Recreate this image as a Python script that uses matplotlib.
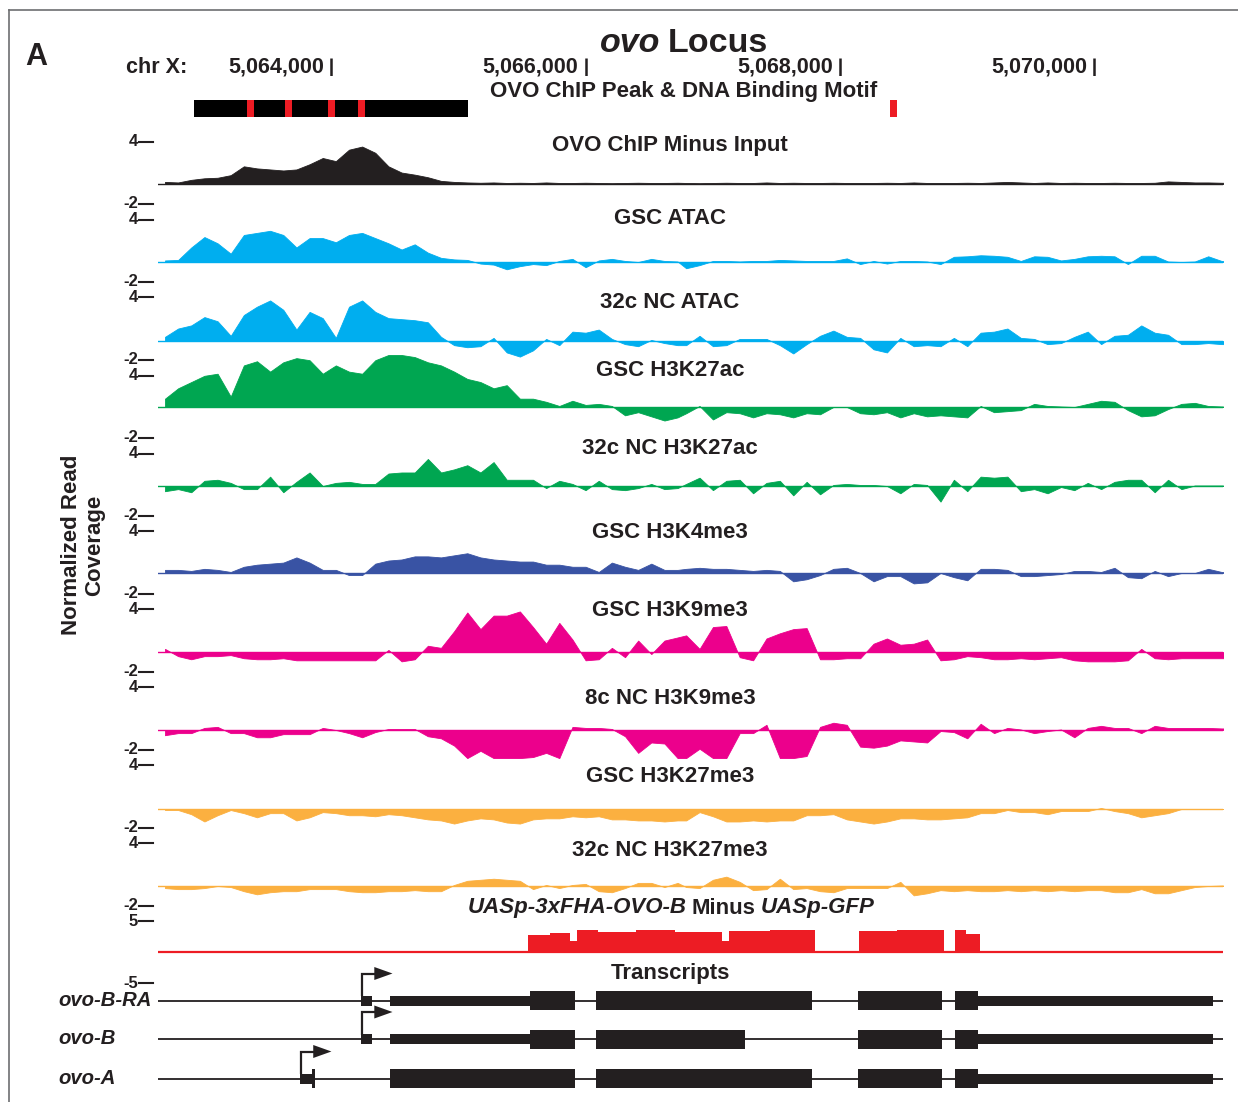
import numpy as np
import matplotlib
matplotlib.use("Agg")
import matplotlib.pyplot as plt
import matplotlib.transforms as mtransforms
from matplotlib.patches import Rectangle, Polygon
from matplotlib.lines import Line2D

plt.rcParams['font.family'] = ['Liberation Sans', 'DejaVu Sans']
TXT = '#231f20'
plt.rcParams['text.color'] = TXT

# ---------------- data ----------------
XMIN, XMAX = 5062640, 5071010            # chrX window shown
GENOME_TICKS = [5064000, 5066000, 5068000, 5070000]
# coverage bin centres (chrX)
BIN_POS = np.r_[5062695 + 103.3 * np.arange(40), 5066791 + 105.2 * np.arange(43)]

OVO_CHIP = [0.2, 0.15, 0.4, 0.55, 0.6, 0.85, 1.7, 1.5, 1.4, 1.3, 1.4, 1.9, 2.5, 2.2, 3.3, 3.6, 3.0, 1.7, 1.1, 0.9,
            0.65, 0.3, 0.2, 0.15, 0.12, 0.15, 0.1, 0.12, 0.1, 0.15, 0.1, 0.1, 0.12, 0.1, 0.08, 0.1, 0.12, 0.1, 0.1, 0.12,
            0.1, 0.08, 0.1, 0.12, 0.1, 0.1, 0.15, 0.1, 0.12, 0.1, 0.1, 0.12, 0.1, 0.1, 0.1, 0.12, 0.1, 0.15, 0.1, 0.1,
            0.1, 0.12, 0.1, 0.15, 0.2, 0.15, 0.1, 0.15, 0.1, 0.12, 0.1, 0.1, 0.12, 0.1, 0.1, 0.12, 0.25, 0.2, 0.15, 0.15,
            0.12, 0.1, 0.1]
GSC_ATAC = [0.15, 0.2, 1.4, 2.4, 1.8, 0.8, 2.6, 2.8, 3.0, 2.6, 1.4, 2.3, 2.3, 1.9, 2.6, 2.8, 2.3, 1.8, 1.2, 1.7,
            0.9, 0.4, 0.25, 0.2, -0.15, -0.25, -0.7, -0.4, -0.2, -0.3, 0.1, 0.3, -0.5, 0.15, 0.3, 0.1, 0.0, 0.3, 0.1, 0.05,
            -0.6, -0.3, 0.1, 0.1, 0.05, 0.1, 0.1, 0.2, 0.15, 0.1, 0.1, 0.1, 0.35, -0.2, 0.1, -0.15, 0.1, 0.1, 0.05, -0.2,
            0.5, 0.55, 0.65, 0.6, 0.5, 0.1, 0.55, 0.5, 0.15, 0.3, 0.55, 0.6, 0.55, -0.2, 0.6, 0.6, 0.05, 0.0, 0.05, 0.55,
            0.1, 0.05, 0.05]
NC32_ATAC = [0.4, 1.2, 1.5, 2.3, 1.9, 0.5, 2.5, 3.3, 3.9, 3.0, 1.1, 2.8, 2.2, 0.3, 3.3, 3.9, 2.8, 2.2, 2.1, 2.0,
             1.8, 0.4, -0.4, -0.6, -0.5, 0.3, -1.1, -1.5, -0.9, 0.2, -0.4, 0.9, 0.8, 1.1, 0.2, -0.3, -0.5, 0.1, -0.2, -0.4,
             -0.4, 0.5, -0.5, -0.4, 0.2, 0.2, 0.2, -0.4, -1.2, -0.3, 0.5, 1.0, 0.4, 0.3, -0.8, -1.1, 0.3, -0.5, -0.4, -0.5,
             0.3, -0.5, 0.8, 0.9, 1.2, 0.3, 0.2, -0.3, -0.2, 0.4, 0.9, -0.3, 0.5, 0.6, 1.5, 0.8, 0.6, -0.3, -0.3, -0.2,
             -0.3, -0.3, -0.4]
GSC_K27AC = [0.8, 1.8, 2.4, 3.0, 3.2, 1.0, 4.0, 4.4, 3.4, 4.3, 4.7, 4.5, 3.2, 4.0, 3.4, 3.2, 4.5, 5.0, 5.0, 4.8,
             4.3, 4.0, 3.4, 2.7, 2.4, 1.8, 2.1, 0.8, 0.8, 0.5, 0.1, 0.6, 0.2, 0.3, 0.1, -0.8, -0.5, -0.9, -1.3, -1.0,
             -0.6, 0.1, -1.2, -0.5, -0.6, -1.0, -0.6, -0.7, -1.0, -0.6, -0.7, 0.0, 0.0, -0.6, -0.7, -0.5, -1.0, -0.6, -0.9, -0.8,
             -0.9, -1.0, 0.1, -0.5, -0.4, -0.3, 0.3, 0.1, 0.05, 0.0, 0.3, 0.6, 0.5, -0.3, -0.9, -0.8, -0.2, 0.3, 0.4, 0.1,
             0.05, 0.05, 0.05]
NC32_K27AC = [-0.5, -0.3, -0.6, 0.5, 0.6, 0.3, -0.3, -0.3, 0.9, -0.6, 0.4, 1.3, 0.0, 0.3, 0.4, 0.2, 0.2, 1.2, 1.3, 1.3,
              2.6, 1.3, 1.6, 2.0, 1.3, 2.3, 0.6, 0.6, 0.6, -0.2, 0.5, 0.2, -0.4, 0.5, -0.3, -0.4, -0.2, 0.2, -0.3, -0.2,
              0.2, 0.8, -0.4, 0.5, 0.6, -0.7, 0.3, 0.5, -0.9, 0.4, -0.8, 0.1, 0.2, 0.1, 0.1, 0.0, -0.7, 0.2, 0.1, -1.5,
              0.6, -0.5, 0.9, 0.8, 0.9, -0.5, -0.3, -0.7, -0.1, -0.4, 0.3, -0.3, 0.4, 0.6, 0.6, -0.6, 0.6, -0.3, 0.05, 0.05,
              0.05, 0.05, -0.1]
GSC_K4ME3 = [0.3, 0.3, 0.2, 0.4, 0.3, 0.1, 0.6, 0.8, 0.9, 1.0, 1.5, 1.0, 0.3, 0.3, -0.2, -0.2, 0.9, 1.2, 1.3, 1.6,
             1.6, 1.5, 1.7, 1.9, 1.5, 1.3, 1.2, 1.1, 1.1, 0.8, 0.8, 0.6, 0.6, 0.1, 1.0, 0.6, 0.3, 0.9, 0.3, 0.3,
             0.4, 0.5, 0.4, 0.4, 0.3, 0.2, 0.3, 0.2, -0.8, -0.6, -0.2, 0.4, 0.5, 0.0, -0.8, -0.3, -0.3, -1.0, -0.9, 0.0,
             -0.4, -0.7, 0.4, 0.4, 0.3, -0.3, -0.3, -0.2, -0.1, 0.2, 0.2, 0.1, 0.5, -0.4, -0.5, 0.2, -0.3, 0.0, 0.0, 0.4,
             0.1, 0.0, -0.1]
GSC_K9ME3 = [0.3, -0.4, -0.7, -0.4, -0.4, -0.3, -0.6, -0.7, -0.7, -0.6, -0.8, -0.8, -0.8, -0.8, -0.8, -0.8, -0.8, 0.2, -0.9, -0.7,
             0.6, 0.4, 2.0, 3.8, 2.2, 3.5, 3.5, 3.9, 2.4, 0.8, 2.8, 1.2, -0.8, -0.7, 0.4, -0.5, 1.1, -0.2, 1.1, 1.4,
             1.6, 0.3, 2.4, 2.5, -0.5, -0.8, 1.3, 1.8, 2.2, 2.3, -0.7, -0.7, -0.6, -0.6, 0.8, 1.3, 0.7, 0.8, 1.2, -0.8,
             -0.7, -0.4, -0.5, -0.7, -0.7, -0.6, -0.7, -0.6, -0.5, -0.8, -0.9, -0.9, -0.9, -0.8, 0.3, -0.6, -0.7, -0.6, -0.6, -0.6,
             -0.6, -0.6, -0.6]
NC8_K9ME3 = [-0.5, -0.3, -0.3, 0.2, 0.3, -0.3, -0.3, -0.7, -0.7, -0.4, -0.4, -0.4, 0.2, 0.0, -0.3, -0.7, -0.2, 0.1, 0.1, 0.1,
             -0.6, -0.8, -1.5, -2.7, -2.0, -2.7, -2.7, -2.7, -2.6, -2.2, -2.7, 0.3, 0.2, 0.2, 0.1, -0.6, -2.2, -1.2, -1.3, -2.7,
             -2.7, -1.8, -2.7, -2.7, -0.3, -0.3, 0.5, -2.7, -2.7, -2.5, 0.3, 0.7, 0.5, -1.6, -1.7, -1.5, -1.0, -1.1, -1.2, -0.1,
             -0.2, -0.8, 0.6, -0.3, 0.2, 0.05, -0.3, -0.1, 0.05, -0.7, 0.2, 0.4, 0.2, 0.2, -0.3, 0.4, 0.2, 0.2, 0.2, 0.2,
             0.15, 0.15, -0.2]
GSC_K27ME3 = [-0.1, -0.1, -0.5, -1.2, -0.6, -0.1, -0.4, -0.8, -0.4, -0.4, -1.1, -0.8, -0.3, -0.4, -0.6, -0.6, -0.7, -0.5, -0.6, -0.8,
              -1.0, -1.1, -1.4, -1.1, -0.9, -1.0, -1.3, -1.4, -1.0, -0.9, -0.9, -0.7, -0.8, -0.7, -1.0, -1.0, -1.1, -1.1, -1.2, -1.1,
              -1.1, -0.3, -0.7, -1.2, -1.2, -1.1, -1.2, -1.1, -1.1, -0.6, -0.6, -0.5, -1.0, -1.2, -1.4, -1.2, -0.9, -0.9, -1.0, -1.0,
              -0.9, -0.8, -0.4, -0.4, -0.1, -0.3, -0.3, -0.5, -0.2, -0.2, -0.2, 0.1, -0.2, -0.4, -0.8, -0.6, -0.4, 0.0, 0.0, 0.0,
              0.0, 0.0, 0.0]
NC32_K27ME3 = [-0.2, -0.3, -0.3, -0.2, 0.0, -0.1, -0.5, -0.8, -0.6, -0.5, -0.5, -0.3, -0.3, -0.3, -0.5, -0.6, -0.6, -0.5, -0.5, -0.4,
               -0.5, -0.5, 0.1, 0.5, 0.6, 0.7, 0.6, 0.5, -0.3, 0.1, -0.2, 0.1, 0.2, -0.5, -0.6, -0.2, 0.3, 0.3, -0.1, 0.3,
               -0.1, -0.2, 0.6, 0.9, 0.4, -0.4, -0.3, 0.7, -0.3, -0.2, -0.5, -0.6, -0.2, -0.2, -0.2, -0.2, 0.4, -0.9, -0.7, -0.4,
               -0.5, -0.4, -0.5, -0.5, -0.4, -0.5, -0.4, -0.5, -0.4, -0.5, -0.4, -0.4, -0.6, -0.6, -0.3, -0.7, -0.7, -0.4, -0.1, 0.0,
               0.05, 0.05, 0.05]

# UASp-3xFHA-OVO-B minus UASp-GFP (segment starts / levels)
UASP_STARTS = [5062640, 5063623, 5065548, 5065720, 5065880, 5065935, 5066100, 5066400, 5066700, 5067073,
               5067128, 5067450, 5067804, 5068150, 5068450, 5068818, 5068904, 5068990, 5069101]
UASP_VALUES = [0.0, 0.15, 2.8, 3.1, 1.8, 3.6, 3.3, 3.5, 3.2, 1.8,
               3.4, 3.6, 0.2, 3.4, 3.6, 0.0, 3.6, 2.9, 0.15]

# OVO ChIP peak and motif positions
PEAK_START, PEAK_END = 5062923, 5065077
MOTIF_POS = [5063367, 5063662, 5064003, 5064240, 5068420]

# transcripts: (start, end, kind)
OVO_B_RA = [(5064236, 5064322, 'utr'), (5064460, 5065564, 'utr'), (5065564, 5065918, 'cds'),
            (5066083, 5067780, 'cds'), (5068142, 5068802, 'cds'), (5068904, 5069085, 'cds'),
            (5069085, 5070931, 'utr')]
OVO_B = [(5064236, 5064322, 'utr'), (5064460, 5065564, 'utr'), (5065564, 5065918, 'cds'),
         (5066083, 5067254, 'cds'), (5068142, 5068802, 'cds'), (5068904, 5069085, 'cds'),
         (5069085, 5070931, 'utr')]
OVO_A = [(5063756, 5063851, 'utr'), (5063851, 5063875, 'cds'), (5064460, 5065918, 'cds'),
         (5066083, 5067780, 'cds'), (5068142, 5068802, 'cds'), (5068904, 5069085, 'cds'),
         (5069085, 5070931, 'utr')]
TX_NAMES = ['ovo-B-RA', 'ovo-B', 'ovo-A']
TX_TSS = [5064240, 5064240, 5063760]

TRACK_TITLES = ['OVO ChIP Minus Input', 'GSC ATAC', '32c NC ATAC', 'GSC H3K27ac', '32c NC H3K27ac',
                'GSC H3K4me3', 'GSC H3K9me3', '8c NC H3K9me3', 'GSC H3K27me3', '32c NC H3K27me3']
TRACK_VALUES = [OVO_CHIP, GSC_ATAC, NC32_ATAC, GSC_K27AC, NC32_K27AC,
                GSC_K4ME3, GSC_K9ME3, NC8_K9ME3, GSC_K27ME3, NC32_K27ME3]
for v in TRACK_VALUES:
    assert len(v) == len(BIN_POS), len(v)

# ---------------- style / layout ----------------
BLACK, BLUE, GREEN, NAVY, MAGENTA, ORANGE, RED = ('#231f20', '#00aeef', '#00a651', '#3953a4',
                                                  '#ec008c', '#fbb040', '#ed1c24')
TRACK_COLORS = [BLACK, BLUE, BLUE, GREEN, GREEN, NAVY, MAGENTA, MAGENTA, ORANGE, ORANGE]
BASE_PX = [184, 262, 341, 407, 486, 573, 652, 730, 809, 886]
TITLE_PX = [146, 218, 302, 370, 448, 533, 610, 698, 776, 851]
TICK_TOP_PX = [142, 220, 297, 376, 454, 531, 609, 687, 765, 843]
TICK_BOT_PX = [204, 282, 360, 438, 516, 594, 672, 750, 828, 906]
SCALE = 10.4        # px per unit
FS_TITLE = 16

W, H = 1238, 1102
fig = plt.figure(figsize=(W / 100, H / 100), dpi=100)
AX_L, AX_R = 158, 1223


def fy(py):
    return 1 - py / H


def make_axes(top_px, bot_px, ylim):
    ax = fig.add_axes([AX_L / W, fy(bot_px), (AX_R - AX_L) / W, (bot_px - top_px) / H])
    ax.set_xlim(XMIN, XMAX)
    ax.set_ylim(*ylim)
    ax.set_axis_off()
    return ax


def tick(label, py):
    fig.text(138 / W, fy(py), label, ha='right', va='center', fontsize=12, weight='bold')
    fig.add_artist(Line2D([139 / W, 153 / W], [fy(py)] * 2, lw=1.5, color=TXT))


for title, vals, col, b, tp, t4, t2 in zip(TRACK_TITLES, TRACK_VALUES, TRACK_COLORS, BASE_PX,
                                          TITLE_PX, TICK_TOP_PX, TICK_BOT_PX):
    ylo, yhi = -3.0, 5.5
    ax = make_axes(b - yhi * SCALE, b - ylo * SCALE, (ylo, yhi))
    ax.fill_between(BIN_POS, 0, vals, color=col, linewidth=0.6, edgecolor=col)
    ax.axhline(0, color=col, lw=1.0)
    fig.text(670 / W, fy(tp), title, ha='center', va='center', fontsize=FS_TITLE, weight='bold')
    tick('4', t4)
    tick('-2', t2)

# UASp track
u_scale = 6.2
ax_u = make_axes(952 - 5 * u_scale, 952 + 5 * u_scale, (-5, 5))
u_edges = np.r_[UASP_STARTS, XMAX]
ax_u.stairs(UASP_VALUES, u_edges, baseline=0, fill=True, color=RED, linewidth=0)
ax_u.axhline(0, color=RED, lw=1.6)
tick('5', 921)
tick('-5', 983)

# header: peak & motifs
ax_h = make_axes(100, 117, (0, 1))
ax_h.add_patch(Rectangle((PEAK_START, 0), PEAK_END - PEAK_START, 1, color='black', lw=0))
for m in MOTIF_POS:
    ax_h.add_patch(Rectangle((m - 27, 0), 55, 1, color=RED, lw=0))

# genomic coordinate ruler: label + short tick bar at each position
ax_r = make_axes(58, 76, (0, 1))
trans = mtransforms.blended_transform_factory(ax_r.transData, fig.transFigure)
off = mtransforms.offset_copy(trans, fig=fig, x=-7, y=0, units='dots')
for t in GENOME_TICKS:
    fig.text(t, fy(67.5), f"{t:,}", transform=off, ha='right', va='center', fontsize=15.5, weight='bold')
    ax_r.plot([t, t], [0.0, 1.0], color=TXT, lw=1.8, solid_capstyle='butt')
fig.text(126 / W, fy(67.5), 'chr X:', ha='left', va='center', fontsize=15.5, weight='bold')
fig.text(684 / W, fy(91), 'OVO ChIP Peak & DNA Binding Motif', ha='center', va='center',
         fontsize=FS_TITLE, weight='bold')
fig.text(36 / W, fy(57), 'A', ha='center', va='center', fontsize=22, weight='bold')

renderer = fig.canvas.get_renderer()


def composite(pieces, cx, cy, size, gap):
    texts = [fig.text(0, fy(cy), s, fontsize=size, weight='bold', style=st, ha='left', va='center')
             for s, st in pieces]
    widths = [t.get_window_extent(renderer).width for t in texts]
    x = cx - (sum(widths) + gap * (len(texts) - 1)) / 2
    for t, w in zip(texts, widths):
        t.set_x(x / W)
        x += w + gap


composite([('ovo', 'italic'), ('Locus', 'normal')], 684, 44, 24.5, 8)
composite([('UASp-3xFHA-OVO-B', 'italic'), ('Minus', 'normal'), ('UASp-GFP', 'italic')], 671, 908,
          FS_TITLE, 5)
fig.text(670 / W, fy(974), 'Transcripts', ha='center', va='center', fontsize=FS_TITLE, weight='bold')

fig.text(83 / W, fy(545), 'Normalized Read\nCoverage', rotation=90, ha='center', va='center',
         fontsize=16, weight='bold', linespacing=1.15, multialignment='center')

# transcripts
ax_t = make_axes(955, 1100, (1100, 955))
ROW_PX = [1000.5, 1039, 1078.5]
for name, exons, tss, y in zip(TX_NAMES, [OVO_B_RA, OVO_B, OVO_A], TX_TSS, ROW_PX):
    ax_t.plot([XMIN, XMAX], [y, y], color=TXT, lw=1.3, solid_capstyle='butt')
    for s, e, kind in exons:
        h = 10 if kind == 'utr' else 19
        ax_t.add_patch(Rectangle((s, y - h / 2), e - s, h, color=TXT, lw=0))
    ax_t.plot([tss, tss, tss + 106], [y - 4.5, y - 27, y - 27], color=TXT, lw=1.6,
              solid_joinstyle='miter', solid_capstyle='butt')
    ax_t.add_patch(Polygon([[tss + 100, y - 33.5], [tss + 100, y - 20.5], [tss + 243, y - 27]],
                           closed=True, color=TXT, lw=0))
    fig.text(58 / W, fy(y), name, ha='left', va='center', fontsize=14.6, weight='bold', style='italic')

# frame
fig.add_artist(Line2D([9 / W, 1], [fy(10), fy(10)], lw=1.2, color='#6d6e71'))
fig.add_artist(Line2D([9 / W, 9 / W], [fy(10), 0], lw=1.2, color='#6d6e71'))

fig.savefig('out.png', dpi=100)
